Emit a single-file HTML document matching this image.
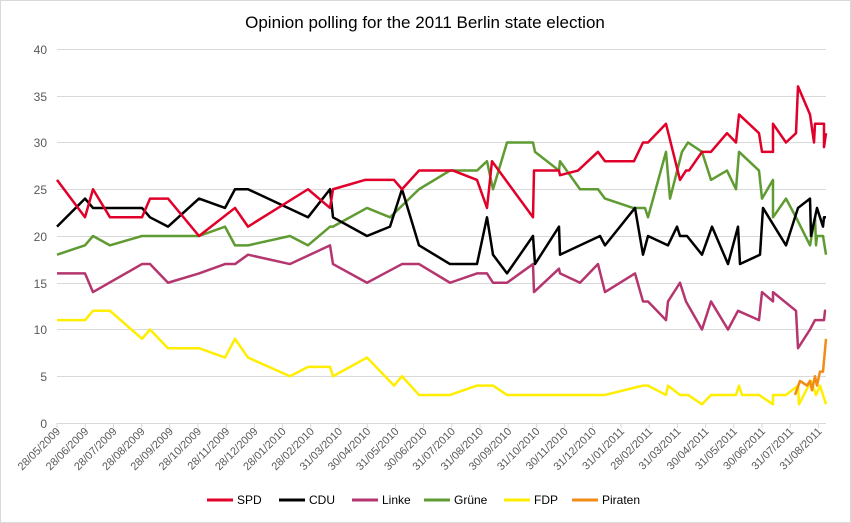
<!DOCTYPE html>
<html><head><meta charset="utf-8"><style>
body{margin:0;background:#fff}
svg{display:block;font-family:"Liberation Sans",sans-serif}
</style></head><body>
<svg width="851" height="523" viewBox="0 0 851 523">
<rect x="0.5" y="0.5" width="850" height="522" fill="#fff" stroke="#d9d9d9"/>
<text x="425" y="28" text-anchor="middle" font-size="17" fill="#000">Opinion polling for the 2011 Berlin state election</text>
<g stroke="#d9d9d9" stroke-width="1">
<line x1="57" x2="826" y1="49.5" y2="49.5"/><line x1="57" x2="826" y1="96.5" y2="96.5"/>
<line x1="57" x2="826" y1="142.5" y2="142.5"/><line x1="57" x2="826" y1="189.5" y2="189.5"/>
<line x1="57" x2="826" y1="236.5" y2="236.5"/><line x1="57" x2="826" y1="283.5" y2="283.5"/>
<line x1="57" x2="826" y1="329.5" y2="329.5"/><line x1="57" x2="826" y1="376.5" y2="376.5"/>
<line x1="57" x2="826" y1="423.5" y2="423.5"/>
</g>
<g font-size="12" fill="#595959" text-anchor="end">
<text x="47" y="54">40</text><text x="47" y="101">35</text><text x="47" y="147">30</text>
<text x="47" y="194">25</text><text x="47" y="241">20</text><text x="47" y="288">15</text>
<text x="47" y="334">10</text><text x="47" y="381">5</text><text x="47" y="428">0</text>
</g>
<g id="ticks" stroke="#d9d9d9"></g>
<g id="xl" font-size="11" fill="#595959"></g>
<g transform="translate(0,423) scale(1,-9.35)" fill="none" stroke-width="2.5" stroke-linejoin="round">
<polyline vector-effect="non-scaling-stroke" stroke="#ffee00" points="57,11 85,11 93,12 110,12 142,9 150,10 168,8 199,8 225,7 235,9 248,7 290,5 308,6 330,6 333,5 367,7 394,4 402,5 419,3 450,3 477,4 493,4 507,3 605,3 643,4 648,4 666,3 668,4 680,3 688,3 702,2 711,3 736,3 739,4 742,3 759,3 773,2 773,3 786,3 798,4 799,2 811,4.5 816,3 820,4 826,2"/>
<polyline vector-effect="non-scaling-stroke" stroke="#b5366e" points="57,16 85,16 93,14 142,17 150,17 168,15 199,16 225,17 235,17 248,18 290,17 330,19 333,17 367,15 402,17 419,17 450,15 477,16 487,16 493,15 507,15 533,17 534,14 559,16.5 560,16 580,15 598,17 605,14 635,16 643,13 648,13 666,11 668,13 680,15 686,13 702,10 711,13 728,10 738,12 759,11 762,14 773,13 773,14 796,12 798,8 810,10 815,11 824,11 825,12 826,12"/>
<polyline vector-effect="non-scaling-stroke" stroke="#5f9b32" points="57,18 85,19 93,20 110,19 142,20 199,20 225,21 235,19 248,19 290,20 308,19 330,21 333,21 367,23 390,22 419,25 450,27 477,27 487,28 493,25 507,30 533,30 535,29 559,27 560,28 580,25 598,25 605,24 633,23 645,23 648,22 666,29 670,24 682,29 688,30 702,29 711,26 727,27 736,25 739,29 759,27 762,24 773,26 773,22 786,24 796,22 810,19 815,22 816,19 817,20 823,20 826,18"/>
<polyline vector-effect="non-scaling-stroke" stroke="#000" points="57,21 85,24 93,23 142,23 150,22 168,21 199,24 225,23 235,25 248,25 308,22 330,25 333,22 367,20 390,21 402,25 419,19 450,17 477,17 487,22 493,18 507,16 533,20 535,17 559,21 560,18 600,20 605,19 635,23 643,18 648,20 668,19 677,21 680,20 687,20 702,18 712,21 728,17 738,21 740,17 760,18 763,23 786,19 798,23 810,24 811,20 817,23 823,21 824,22 826,22"/>
<polyline vector-effect="non-scaling-stroke" stroke="#e0002a" points="57,26 85,22 93,25 110,22 142,22 150,24 168,24 199,20 235,23 248,21 308,25 330,23 333,25 365,26 394,26 402,25 419,27 453,27 477,26 487,23 492,28 533,22 534,27 559,27 560,26.5 578,27 598,29 605,28 634,28 643,30 648,30 666,32 680,26 686,27 689,27 702,29 711,29 727,31 736,30 739,33 759,31 762,29 773,29 773,32 786,30 796,31 798,36 810,33 814,30 815,32 824,32 824,29.5 826,31"/>
<polyline vector-effect="non-scaling-stroke" stroke="#f28c16" points="795,3 800,4.5 807,4 810,4.5 812,3.5 815,5 817,4 820,5.5 823,5.5 826,9"/>
</g>
<g font-size="12" fill="#000">
<line x1="207" x2="233" y1="500" y2="500" stroke="#e0002a" stroke-width="3"/><text x="237" y="504">SPD</text>
<line x1="279" x2="305" y1="500" y2="500" stroke="#000" stroke-width="3"/><text x="309" y="504">CDU</text>
<line x1="352" x2="378" y1="500" y2="500" stroke="#b5366e" stroke-width="3"/><text x="382" y="504">Linke</text>
<line x1="424" x2="450" y1="500" y2="500" stroke="#5f9b32" stroke-width="3"/><text x="454" y="504">Grüne</text>
<line x1="504" x2="530" y1="500" y2="500" stroke="#ffee00" stroke-width="3"/><text x="534" y="504">FDP</text>
<line x1="572" x2="598" y1="500" y2="500" stroke="#f28c16" stroke-width="3"/><text x="602" y="504">Piraten</text>
</g>
<script>
var L=["28/05/2009","28/06/2009","28/07/2009","28/08/2009","28/09/2009","28/10/2009","28/11/2009","28/12/2009","28/01/2010","28/02/2010","31/03/2010","30/04/2010","31/05/2010","30/06/2010","31/07/2010","31/08/2010","30/09/2010","31/10/2010","30/11/2010","31/12/2010","31/01/2011","28/02/2011","31/03/2011","30/04/2011","31/05/2011","30/06/2011","31/07/2011","31/08/2011"];
var ns="http://www.w3.org/2000/svg",t=document.getElementById("ticks"),g=document.getElementById("xl");
L.forEach(function(s,i){var x=57+i*28.2;
var l=document.createElementNS(ns,"line");l.setAttribute("x1",x);l.setAttribute("x2",x);l.setAttribute("y1",423);l.setAttribute("y2",428);t.appendChild(l);
var e=document.createElementNS(ns,"text");e.setAttribute("text-anchor","end");e.setAttribute("transform","translate("+(x+4)+",432) rotate(-45)");e.textContent=s;g.appendChild(e);});
</script>
</svg>
</body></html>
